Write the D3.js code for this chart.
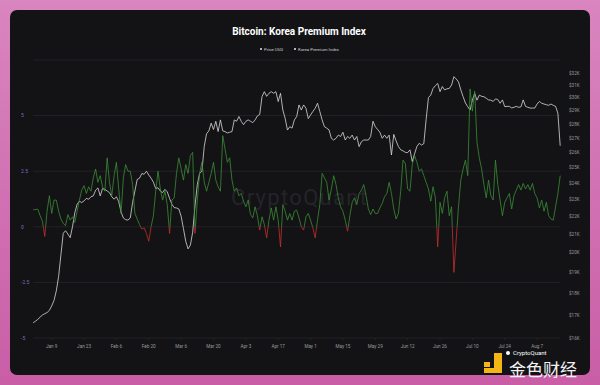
<!DOCTYPE html>
<html>
<head>
<meta charset="utf-8">
<script src="https://cdnjs.cloudflare.com/ajax/libs/d3/7.8.5/d3.min.js"></script>
<style>
    html, body { margin: 0; padding: 0; background: #d27ab6; }
    svg { display: block; }
</style>
</head>
<body>
<svg id="chart"></svg>
<script>
// daily series, starting Jan 1 2023
const START_DATE = "2023-01-01";

const PREMIUM = [
    0.77, 0.78, 0.79, 0.5, 0.25, -0.43, 0.7, 1.4, 0.6, 1.2,
    1.2, 0.7, 0.35, 0.15, 0.05, 0.55, 0.3, 0.45, 0.2, 0.7,
    1.2, 1.65, 1.85, 1.5, 1.8, 1.6, 2.2, 2.6, 2.0, 2.3,
    1.8, 1.6, 3.1, 2.0, 1.4, 2.3, 2.9, 1.7, 0.6, 2.2,
    2.8, 2.5, 2.5, 1.9, 0.6, 0.35, 0.1, -0.1, -0.05, -0.3,
    -0.65, 0.0, 0.5, 1.6, 2.5, 1.7, 1.2, 1.6, 1.0, -0.3,
    1.2, 1.3, 2.4, 3.1, 2.6, 2.1, 2.8, 2.4, 3.2, 3.35,
    -0.3, 1.2, 2.4, 2.9, 2.0, 1.6, 2.0, 2.4, 2.9, 2.1,
    1.8, 1.6, 4.1, 3.5, 2.9, 3.1, 2.1, 1.6, 1.75, 1.4,
    1.5, 1.15, 0.9, 1.2, 0.55, 0.4, 0.9, 0.5, -0.15, 0.45,
    0.1, -0.5, 0.3, 0.85, 0.3, 0.9, 0.3, -0.9, 1.0, 0.7,
    0.3, 0.6, 0.3, 0.7, 0.75, 0.4, 0.0, -0.15, 0.45, 0.6,
    0.3, -0.05, -0.5, 0.3, 1.0, 2.4, 2.2, 2.0, 1.2, 1.7,
    2.3, 1.9, 1.3, 0.9, 0.7, 0.3, -0.2, 0.5, 1.1, 1.3,
    1.0, 1.5, 1.65, 1.9, 1.4, 0.8, 0.55, 0.8, 0.6, 0.6,
    0.85, 1.05, 1.35, 1.5, 2.0, 1.5, 0.8, 0.35, 0.6, 1.6,
    3.0, 2.85, 1.7, 1.6, 2.8, 3.2, 2.9, 2.5, 2.6, 2.3,
    2.0, 1.7, 1.15, 1.8, 1.3, -0.9, 1.1, 0.6, 1.3, 1.6,
    0.5, 0.9, -2.05, -0.6, 0.9, 2.1, 2.6, 3.0, 2.3, 6.2,
    5.2, 6.1, 3.8, 3.1, 2.6, 1.9, 1.3, 2.1, 1.4, 1.2,
    3.0, 1.9, 1.2, 0.5, 1.1, 1.3, 1.5, 0.8, 1.4, 1.65,
    1.9, 1.65, 1.95, 1.7, 1.9, 1.65, 1.95, 1.5, 1.3, 0.85,
    1.2, 0.7, 1.1, 0.5, 0.35, 0.3, 0.9, 1.5, 2.3
];

const PRICE = [
    16650, 16720, 16800, 16900, 16990, 17050, 17100, 17200, 17400, 17650,
    18100, 18800, 19900, 21040, 21180, 21000, 20800, 21400, 22200, 22700,
    22880, 22800, 22900, 23050, 23000, 23150, 23200, 23550, 23690, 23200,
    23650, 23600, 23500, 23400, 23150, 23000, 23150, 22850, 22250, 21900,
    21800, 21780, 21900, 22800, 23500, 24220, 24300, 24600, 24550, 24750,
    24500, 24300, 24050, 23650, 23700, 23500, 23400, 23600, 23450, 23050,
    22700, 22500, 22480, 22420, 22000, 21300, 20600, 20200, 20400, 21100,
    22600, 23900, 24600, 24750, 26400, 27300, 27500, 28060, 27600, 28200,
    27450, 28300, 27500, 27450, 27350, 27400, 27450, 28300, 28200, 28550,
    28200, 27950, 28200, 28300, 28200, 28100, 28300, 28600, 28700, 30080,
    30470, 30100, 30340, 30470, 30340, 30470, 29690, 30340, 29040, 28420,
    27560, 27800, 27700, 28300, 28550, 29430, 29040, 29430, 29180, 28400,
    28670, 28930, 29180, 29560, 28930, 28300, 27800, 27700, 27570, 26970,
    26850, 26970, 27200, 27100, 27400, 26850, 27100, 26970, 27200, 26850,
    27100, 26390, 26730, 26850, 26850, 26850, 27100, 28200, 27800, 27600,
    27400, 26970, 27200, 26970, 27200, 25820, 27250, 26800, 26400, 26170,
    26100, 26000, 25980, 26170, 25380, 25900, 26400, 26620, 26500, 26600,
    28330, 30000, 30200, 30730, 30950, 31130, 30470, 30880, 30610, 30700,
    30730, 31000, 31690, 31500, 31260, 30610, 30070, 29580, 29300, 29040,
    29800, 30340, 29800, 30200, 30100, 30070, 29950, 29820, 29800, 29700,
    29900, 29850, 29560, 29820, 29300, 29320, 29320, 29200, 29250, 29320,
    29250, 29280, 29820, 29320, 29250, 29190, 29190, 29190, 29500, 29700,
    29560, 29500, 29450, 29400, 29500, 29400, 29320, 28800, 26450
];

const LEFT_TICKS = [-5, -2.5, 0, 2.5, 5];
const RIGHT_TICKS = [16000, 17000, 18000, 19000, 20000, 21000, 22000, 23000, 24000,
    25000, 26000, 27000, 28000, 29000, 30000, 31000, 32000];
const X_TICKS = ["2023-01-09", "2023-01-23", "2023-02-06", "2023-02-20", "2023-03-06",
    "2023-03-20", "2023-04-03", "2023-04-17", "2023-05-01", "2023-05-15", "2023-05-29",
    "2023-06-12", "2023-06-26", "2023-07-10", "2023-07-24", "2023-08-07"];
const LEGEND = ["Price USD", "Korea Premium Index"];

const WIDTH = 600;
const HEIGHT = 385;
const PLOT = { left: 33.2, right: 560.2, top: 60, bottom: 338 };

window.onload = function () {
    drawChart();
};

function drawChart() {
    let parse = d3.utcParse("%Y-%m-%d");
    let start = parse(START_DATE);
    let dates = PRICE.map(function (d, i) { return d3.utcDay.offset(start, i); });

    let xScale = d3.scaleUtc()
        .domain([dates[0], dates[dates.length - 1]])
        .range([PLOT.left, PLOT.right]);

    let yLeft = d3.scaleLinear()
        .domain([-5, 7.5])
        .range([PLOT.bottom, PLOT.top]);

    let yRight = d3.scaleLog()
        .domain([16000, 33100])
        .range([PLOT.bottom, PLOT.top]);

    let svg = d3.select("#chart")
        .attr("width", WIDTH)
        .attr("height", HEIGHT)
        .attr("font-family", "Roboto, 'Noto Sans', sans-serif");

    let defs = svg.append("defs");
    let grad = defs.append("linearGradient")
        .attr("id", "bg")
        .attr("x1", 0).attr("y1", 0).attr("x2", 0).attr("y2", 1);
    grad.append("stop").attr("offset", "0%").attr("stop-color", "#d985c0");
    grad.append("stop").attr("offset", "100%").attr("stop-color", "#c95ea6");

    let y0 = yLeft(0);
    defs.append("clipPath").attr("id", "above")
        .append("rect")
        .attr("x", 0).attr("y", 0).attr("width", WIDTH).attr("height", y0);
    defs.append("clipPath").attr("id", "below")
        .append("rect")
        .attr("x", 0).attr("y", y0).attr("width", WIDTH).attr("height", HEIGHT - y0);

    // page + card
    svg.append("rect")
        .attr("width", WIDTH).attr("height", HEIGHT)
        .attr("fill", "url(#bg)");
    svg.append("rect")
        .attr("x", 10).attr("y", 10)
        .attr("width", 580).attr("height", 365)
        .attr("rx", 7)
        .attr("fill", "#131316");

    // title + legend
    svg.append("text")
        .attr("x", 299).attr("y", 34.5)
        .attr("text-anchor", "middle")
        .attr("font-size", "10px")
        .attr("font-weight", "bold")
        .attr("fill", "#ffffff")
        .text("Bitcoin: Korea Premium Index");

    let legendX = [264, 298];
    LEGEND.forEach(function (name, i) {
        svg.append("circle")
            .attr("cx", legendX[i] - 3).attr("cy", 49)
            .attr("r", 1)
            .attr("fill", "#e8e8e8");
        svg.append("text")
            .attr("x", legendX[i]).attr("y", 50.5)
            .attr("font-size", "4.3px")
            .attr("fill", "#d0d0d0")
            .text(name);
    });

    // gridlines
    svg.selectAll("line.grid")
        .data(LEFT_TICKS.concat([7.5]))
        .enter()
        .append("line")
        .attr("class", "grid")
        .attr("x1", PLOT.left).attr("x2", PLOT.right)
        .attr("y1", function (d) { return yLeft(d); })
        .attr("y2", function (d) { return yLeft(d); })
        .attr("stroke", "#26262c")
        .attr("stroke-width", 0.8);

    // watermark
    svg.append("text")
        .attr("x", 299).attr("y", 205)
        .attr("text-anchor", "middle")
        .attr("font-size", "22px")
        .attr("textLength", 136)
        .attr("fill", "#242428")
        .text("CryptoQuant");

    // price (log, right axis)
    let priceLine = d3.line()
        .x(function (d, i) { return xScale(dates[i]); })
        .y(function (d) { return yRight(d); });

    svg.append("path")
        .datum(PRICE)
        .attr("d", priceLine)
        .attr("fill", "none")
        .attr("stroke", "#d8d8d8")
        .attr("stroke-width", 0.8);

    // premium (left axis), green above 0 and red below
    let premLine = d3.line()
        .x(function (d, i) { return xScale(dates[i]); })
        .y(function (d) { return yLeft(d); });

    svg.append("path")
        .datum(PREMIUM)
        .attr("d", premLine)
        .attr("clip-path", "url(#above)")
        .attr("fill", "none")
        .attr("stroke", "#3c8d36")
        .attr("stroke-width", 0.8);

    svg.append("path")
        .datum(PREMIUM)
        .attr("d", premLine)
        .attr("clip-path", "url(#below)")
        .attr("fill", "none")
        .attr("stroke", "#c4302c")
        .attr("stroke-width", 0.8);

    // left axis labels
    svg.selectAll("text.left")
        .data(LEFT_TICKS)
        .enter()
        .append("text")
        .attr("class", "left")
        .attr("x", 21)
        .attr("y", function (d) { return yLeft(d) + 1.8; })
        .attr("font-size", "5px")
        .attr("fill", "#7070c4")
        .text(function (d) { return d; });

    // right axis labels
    svg.selectAll("text.right")
        .data(RIGHT_TICKS)
        .enter()
        .append("text")
        .attr("class", "right")
        .attr("x", 569)
        .attr("y", function (d) { return yRight(d) + 1.7; })
        .attr("font-size", "4.6px")
        .attr("fill", "#9a9a9a")
        .text(function (d) { return "$" + d / 1000 + "K"; });

    // x axis
    let fmt = d3.utcFormat("%b %-d");
    let xt = X_TICKS.map(function (d) { return parse(d); });

    svg.selectAll("line.xtick")
        .data(xt)
        .enter()
        .append("line")
        .attr("class", "xtick")
        .attr("x1", function (d) { return xScale(d); })
        .attr("x2", function (d) { return xScale(d); })
        .attr("y1", PLOT.bottom)
        .attr("y2", PLOT.bottom + 2)
        .attr("stroke", "#2c2c32")
        .attr("stroke-width", 0.6);

    svg.selectAll("text.xlab")
        .data(xt)
        .enter()
        .append("text")
        .attr("class", "xlab")
        .attr("x", function (d) { return xScale(d); })
        .attr("y", 347.5)
        .attr("text-anchor", "middle")
        .attr("font-size", "4.6px")
        .attr("fill", "#9a9a9a")
        .text(function (d) { return fmt(d); });

    // publisher mark, bottom right
    svg.append("rect").attr("x", 484).attr("y", 362).attr("width", 6).attr("height", 5).attr("fill", "#f4b614");
    svg.append("rect").attr("x", 494).attr("y", 353).attr("width", 8).attr("height", 20).attr("fill", "#f4b614");
    svg.append("rect").attr("x", 484).attr("y", 368).attr("width", 18).attr("height", 5).attr("fill", "#f4b614");
    svg.append("circle").attr("cx", 508).attr("cy", 353).attr("r", 2).attr("fill", "#ffffff");
    svg.append("text")
        .attr("x", 513).attr("y", 355)
        .attr("font-size", "6px")
        .attr("fill", "#ffffff")
        .text("CryptoQuant");
    svg.append("text")
        .attr("x", 509).attr("y", 375.5)
        .attr("font-size", "17px")
        .attr("font-family", "'Noto Sans CJK SC', sans-serif")
        .attr("fill", "#f2f2f2")
        .text("金色财经");
}
</script>
</body>
</html>
